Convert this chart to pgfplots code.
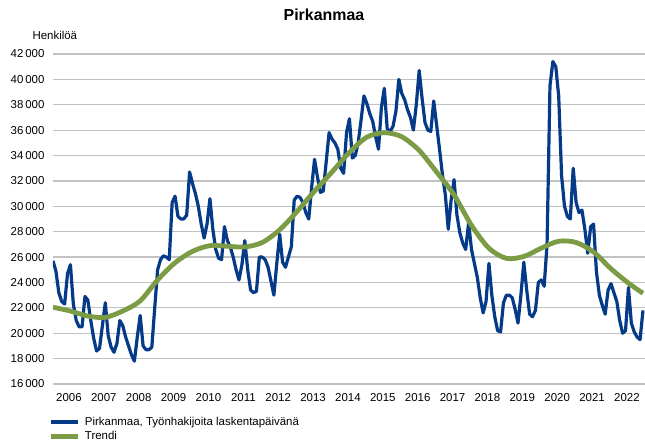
\documentclass[border=0pt]{standalone}
\usepackage{fontspec}
\setmainfont{Liberation Sans}
\usepackage{pgfplots}
\pgfplotsset{compat=1.18}
\usepackage{pgfplotstable}
\definecolor{hakijablue}{HTML}{043A87}
\definecolor{trendgreen}{HTML}{7C9B45}
\definecolor{gridgray}{HTML}{C2C2C2}

% monthly values, Jan 2006 ... Dec 2022
\pgfplotstableread{
v
25700
24900
23200
22500
22300
24700
25400
22300
21000
20500
20500
22900
22600
21000
19600
18600
18800
20600
22400
19800
18900
18500
19200
21000
20600
19700
19000
18300
17800
19700
21400
19000
18700
18700
18900
22000
25000
25800
26100
26000
25800
30300
30800
29200
29000
29000
29300
32700
31800
31000
30000
28600
27500
28600
30600
28200
26600
25900
25800
28400
27300
26800
26000
25000
24200
25400
27300
25000
23400
23200
23300
26000
26000
25800
25200
24100
23000
25500
27800
25600
25200
26000
26800
30500
30800
30700
30300
29500
29000
31500
33700
32300
31100
31200
33500
35800
35300
35000
34500
33000
32600
35800
36900
33800
34000
35000
36800
38700
38100
37300
36700
35500
34500
37800
39300
36100
35900
36300
37500
40000
38900
38400
37600
37000
36000
38000
40700
38500
36600
36000
35900
38300
36400
34500
32500
30900
28200
30500
32100
29300
27900
27100
26600
28700
26600
25500
24400
22800
21600
22500
25500
23000
21300
20200
20100
22400
23000
23000
22800
21900
20800
23000
25600
23400
21500
21300
21800
24000
24200
23700
27000
39500
41400
41000
38700
32400
30000
29200
29000
33000
30300
29500
29700
28200
26300
28400
28600
24800
23000
22200
21500
23400
23900
23200
22500
21000
20000
20200
23600
20800
20100
19700
19500
21800
}\hakijat

% trend, read every six months (month index from Jan 2006)
\pgfplotstableread{
m v
0 22050
6 21750
12 21350
18 21250
24 21750
30 22550
36 24200
42 25550
48 26450
54 26900
60 26850
66 26800
72 27150
78 28150
84 29600
90 31200
96 32700
102 34250
108 35450
114 35800
120 35480
126 34400
132 32700
138 30900
144 28500
150 26700
156 25900
162 26050
168 26700
174 27250
180 27150
186 26400
192 25080
198 23950
203 23150
}\trendi

\begin{document}
\begin{tikzpicture}[font=\fontsize{11.5}{13.5}\selectfont]
\useasboundingbox (-53bp,-61bp) rectangle (592bp,384bp);
\begin{axis}[
  at={(0,0)}, anchor=south west,
  scale only axis, width=592bp, height=330bp,
  xmin=0, xmax=203.7, ymin=16000, ymax=42000,
  ytick={16000,18000,...,42000},
  xtick={5.5,17.5,29.5,41.5,53.5,65.5,77.5,89.5,101.5,113.5,125.5,137.5,149.5,161.5,173.5,185.5,197.5},
  xticklabels={2006,2007,2008,2009,2010,2011,2012,2013,2014,2015,2016,2017,2018,2019,2020,2021,2022},
  scaled y ticks=false,
  /pgf/number format/assume math mode=true,
  /pgf/number format/1000 sep={\,},
  ymajorgrids,
  major grid style={draw=gridgray, line width=1.3bp},
  axis line style={draw=none},
  major tick length=0pt,
  ticklabel style={font=\fontsize{11.5}{13.5}\selectfont},
  yticklabel style={xshift=-5bp},
  xticklabel style={yshift=-6bp},
  legend style={at={(0,0)}, anchor=north west, xshift=-8bp, yshift=-29bp,
    draw=none, fill=none, font=\fontsize{11.5}{13.5}\selectfont, row sep=0.5bp,
    /tikz/every odd column/.append style={column sep=3bp}},
  legend cell align=left,
  legend image code/.code={\draw[#1] (0bp,0bp) -- (27bp,0bp);},
]
\addplot[hakijablue, line width=3.2bp, line join=round] table[x expr=\coordindex, y=v] {\hakijat};
\addlegendentry{Pirkanmaa, Työnhakijoita laskentapäivänä}
\addplot[trendgreen, line width=4.8bp, smooth] table[x=m, y=v] {\trendi};
\addlegendentry{Trendi}
\end{axis}
\node[font=\bfseries\fontsize{16}{18}\selectfont] at (271bp,369bp) {Pirkanmaa};
\node[anchor=west] at (-24bp,349bp) {Henkilöä};
\end{tikzpicture}
\end{document}
